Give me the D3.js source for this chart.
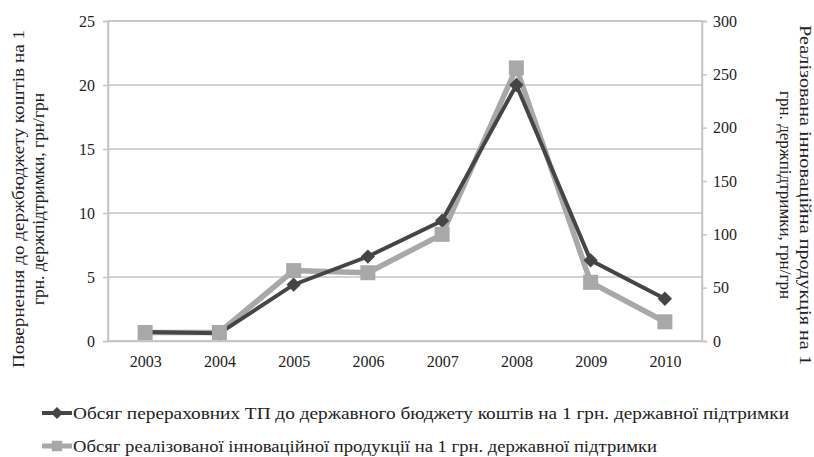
<!DOCTYPE html>
<html>
<head>
<meta charset="utf-8">
<script src="https://cdn.jsdelivr.net/npm/d3@7"></script>
<style>
  body { margin: 0; background: #fff; }
  text { font-family: "Liberation Serif", "DejaVu Serif", serif; fill: #222; }
</style>
</head>
<body>
<div id="chart"></div>
<script>
var years = ["2003", "2004", "2005", "2006", "2007", "2008", "2009", "2010"];
// left axis series: грн/грн returned to budget
var returnedValues = [0.7, 0.6, 4.4, 6.6, 9.4, 20.0, 6.3, 3.3];
// right axis series: innovative products sold
var productValues = [8, 8, 66, 64, 100, 256, 55, 18];
var leftTicks = [0, 5, 10, 15, 20, 25];
var rightTicks = [0, 50, 100, 150, 200, 250, 300];
var legendLabels = [
    "Обсяг перераховних  ТП до державного бюджету коштів на 1 грн. державної підтримки",
    "Обсяг реалізованої інноваційної продукції на 1 грн. державної підтримки"
];

var width = 814, height = 457;
var margin = {top: 21, right: 112, bottom: 116, left: 108};
var plotW = width - margin.left - margin.right,
    plotH = height - margin.top - margin.bottom;

var darkColor = "#454545", lightColor = "#a8a8a8", gridColor = "#c4c4c4";

var svg = d3.select("#chart").append("svg")
    .attr("width", width)
    .attr("height", height);

var g = svg.append("g")
    .attr("transform", "translate(" + margin.left + "," + margin.top + ")");

var x = d3.scalePoint()
    .domain(years)
    .range([0, plotW])
    .padding(0.5);

var yLeft = d3.scaleLinear().domain([0, 25]).range([plotH, 0]);
var yRight = d3.scaleLinear().domain([0, 300]).range([plotH, 0]);

// grid lines
g.append("g")
    .selectAll("line")
    .data(leftTicks)
    .enter()
    .append("line")
    .attr("x1", 0)
    .attr("x2", plotW)
    .attr("y1", function(d) { return yLeft(d); })
    .attr("y2", function(d) { return yLeft(d); })
    .attr("stroke", gridColor)
    .attr("stroke-width", 1.5);

// plot border
g.append("rect")
    .attr("width", plotW)
    .attr("height", plotH)
    .attr("fill", "none")
    .attr("stroke", gridColor)
    .attr("stroke-width", 1.5);

// left axis
var leftAxis = g.append("g")
    .call(d3.axisLeft(yLeft).tickValues(leftTicks).tickSize(5).tickPadding(8));
// right axis
var rightAxis = g.append("g")
    .attr("transform", "translate(" + plotW + ",0)")
    .call(d3.axisRight(yRight).tickValues(rightTicks).tickSize(5).tickPadding(6));
// bottom axis
var bottomAxis = g.append("g")
    .attr("transform", "translate(0," + plotH + ")")
    .call(d3.axisBottom(x).tickSize(0).tickPadding(15));

[leftAxis, rightAxis, bottomAxis].forEach(function(a) {
    a.select(".domain").attr("stroke", gridColor).attr("stroke-width", 1.5);
    a.selectAll(".tick line").attr("stroke", gridColor).attr("stroke-width", 1.5);
    a.selectAll("text")
        .style("font-family", "Liberation Serif, serif")
        .style("font-size", "16px")
        .attr("fill", "#222");
});

// lines
var lightLine = d3.line()
    .x(function(d, i) { return x(years[i]); })
    .y(function(d) { return yRight(d); });
var darkLine = d3.line()
    .x(function(d, i) { return x(years[i]); })
    .y(function(d) { return yLeft(d); });

g.append("path")
    .datum(productValues)
    .attr("d", lightLine)
    .attr("fill", "none")
    .attr("stroke", lightColor)
    .attr("stroke-width", 5.5);

g.append("path")
    .datum(returnedValues)
    .attr("d", darkLine)
    .attr("fill", "none")
    .attr("stroke", darkColor)
    .attr("stroke-width", 4);

// diamond markers
g.selectAll("dmark")
    .data(returnedValues)
    .enter()
    .append("path")
    .attr("d", d3.symbol().type(d3.symbolDiamond2).size(130))
    .attr("transform", function(d, i) { return "translate(" + x(years[i]) + "," + yLeft(d) + ")"; })
    .attr("fill", darkColor);

// square markers
var sq = 15;
g.selectAll("smark")
    .data(productValues)
    .enter()
    .append("rect")
    .attr("x", function(d, i) { return x(years[i]) - sq / 2; })
    .attr("y", function(d) { return yRight(d) - sq / 2; })
    .attr("width", sq)
    .attr("height", sq)
    .attr("fill", lightColor);

// axis titles (stretched to the width the original uses)
var leftTitle = svg.append("text")
    .attr("transform", "translate(24," + (margin.top + plotH / 2 + 18) + ") rotate(-90)")
    .attr("text-anchor", "middle")
    .style("font-size", "16px");
leftTitle.append("tspan").attr("x", 0).attr("dy", 0)
    .attr("textLength", 338).attr("lengthAdjust", "spacingAndGlyphs")
    .text("Повернення до держбюджету коштів на 1");
leftTitle.append("tspan").attr("x", 0).attr("dy", 20)
    .attr("textLength", 212).attr("lengthAdjust", "spacingAndGlyphs")
    .text("грн. держпідтримки, грн/грн");

var rightTitle = svg.append("text")
    .attr("transform", "translate(800," + (margin.top + plotH / 2 + 14) + ") rotate(90)")
    .attr("text-anchor", "middle")
    .style("font-size", "16px");
rightTitle.append("tspan").attr("x", 0).attr("dy", 0)
    .attr("textLength", 340).attr("lengthAdjust", "spacingAndGlyphs")
    .text("Реалізована інноваційна продукція на 1");
rightTitle.append("tspan").attr("x", 0).attr("dy", 20)
    .attr("textLength", 208).attr("lengthAdjust", "spacingAndGlyphs")
    .text("грн. держпідтримки, грн/грн");

// legend
var legendColors = [darkColor, lightColor];
var legendLengths = [716, 584];
var legend = svg.selectAll("legend")
    .data(legendLabels)
    .enter()
    .append("g")
    .attr("transform", function(d, i) { return "translate(42," + (413 + i * 33) + ")"; });

legend.append("line")
    .attr("x1", 0).attr("x2", 30)
    .attr("stroke", function(d, i) { return legendColors[i]; })
    .attr("stroke-width", function(d, i) { return i === 0 ? 4 : 5; });

legend.append("path")
    .attr("d", function(d, i) {
        return d3.symbol().type(i === 0 ? d3.symbolDiamond2 : d3.symbolSquare).size(i === 0 ? 90 : 110)();
    })
    .attr("transform", "translate(15,0)")
    .attr("fill", function(d, i) { return legendColors[i]; });

legend.append("text")
    .attr("x", 31)
    .attr("dy", "0.35em")
    .attr("textLength", function(d, i) { return legendLengths[i]; })
    .attr("lengthAdjust", "spacingAndGlyphs")
    .style("font-size", "16px")
    .text(function(d) { return d; });
</script>
</body>
</html>
